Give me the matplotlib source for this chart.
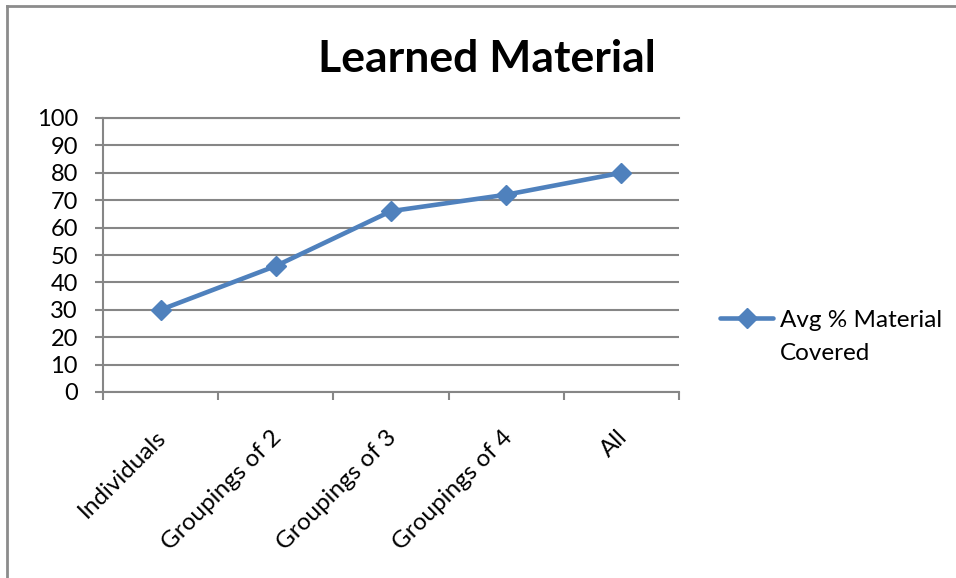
import matplotlib.pyplot as plt
import matplotlib.transforms as mtransforms
from matplotlib.lines import Line2D

plt.rcParams['font.family'] = ['Lato', 'DejaVu Sans']

categories = ["Individuals", "Groupings of 2", "Groupings of 3", "Groupings of 4", "All"]
avg_covered = [30, 46, 66, 72, 80]
yticks = list(range(0, 101, 10))

blue = "#4F81BD"
gray = "#868686"
W, H = 956, 578
fs = 17.5

fig = plt.figure(figsize=(W / 100, H / 100), dpi=100, facecolor='w')
ax = fig.add_axes([103 / W, 1 - 392 / H, (679 - 103) / W, (392 - 118) / H])

x = list(range(len(categories)))
ax.plot(x, avg_covered, color=blue, linewidth=3.3, marker='D', markersize=10,
        markerfacecolor=blue, markeredgecolor=blue, label="Avg % Material",
        solid_capstyle='round', zorder=3)

ax.set_xlim(-0.5, len(categories) - 0.5)
ax.set_ylim(0, 100)
ax.set_yticks(yticks)
ax.set_yticklabels([str(v) for v in yticks])

# ticks sit between categories, labels at category centres
ax.set_xticks([i - 0.5 for i in range(len(categories) + 1)])
ax.set_xticklabels([])
ax.set_xticks(x, minor=True)
ax.set_xticklabels(categories, minor=True, rotation=45, ha='right', va='top',
                   rotation_mode='anchor', fontsize=fs)
ax.tick_params(axis='x', which='minor', length=0, pad=25)
ax.tick_params(axis='x', which='major', length=6, width=1.5, color=gray, direction='out')
ax.tick_params(axis='y', length=6, width=1.5, color=gray, direction='out', labelsize=17, pad=12)
shift = mtransforms.ScaledTranslation(-5 / 100, 0, fig.dpi_scale_trans)
for lab in ax.get_xticklabels(minor=True):
    lab.set_transform(lab.get_transform() + shift)

ax.grid(axis='y', color=gray, linewidth=1.5)
ax.set_axisbelow(True)
for s in ['left', 'bottom', 'top']:
    ax.spines[s].set_color(gray)
    ax.spines[s].set_linewidth(1.5)
ax.spines['right'].set_visible(False)

fig.text(487 / W, 1 - 72 / H, "Learned Material", ha='center', va='baseline',
         fontsize=32, fontweight='bold')

leg = ax.legend(loc='center left', bbox_to_anchor=(720 / W, 1 - 320 / H),
                bbox_transform=fig.transFigure, frameon=False, fontsize=fs,
                handlelength=2.2, handletextpad=0.25, borderpad=0, borderaxespad=0)
ax.annotate("Covered", xy=(0, 0), xycoords=leg.get_texts()[0],
            xytext=(0, -12), textcoords='offset pixels', ha='left', va='top',
            fontsize=fs, zorder=10, annotation_clip=False)

# outer chart border (only top and left visible in the crop)
fig.add_artist(Line2D([7 / W, 7 / W], [0, 1 - 6 / H], color="#8C8C8C", linewidth=2))
fig.add_artist(Line2D([7 / W, 1], [1 - 6 / H, 1 - 6 / H], color="#8C8C8C", linewidth=2))

fig.savefig("out.png", dpi=100, facecolor='w')
